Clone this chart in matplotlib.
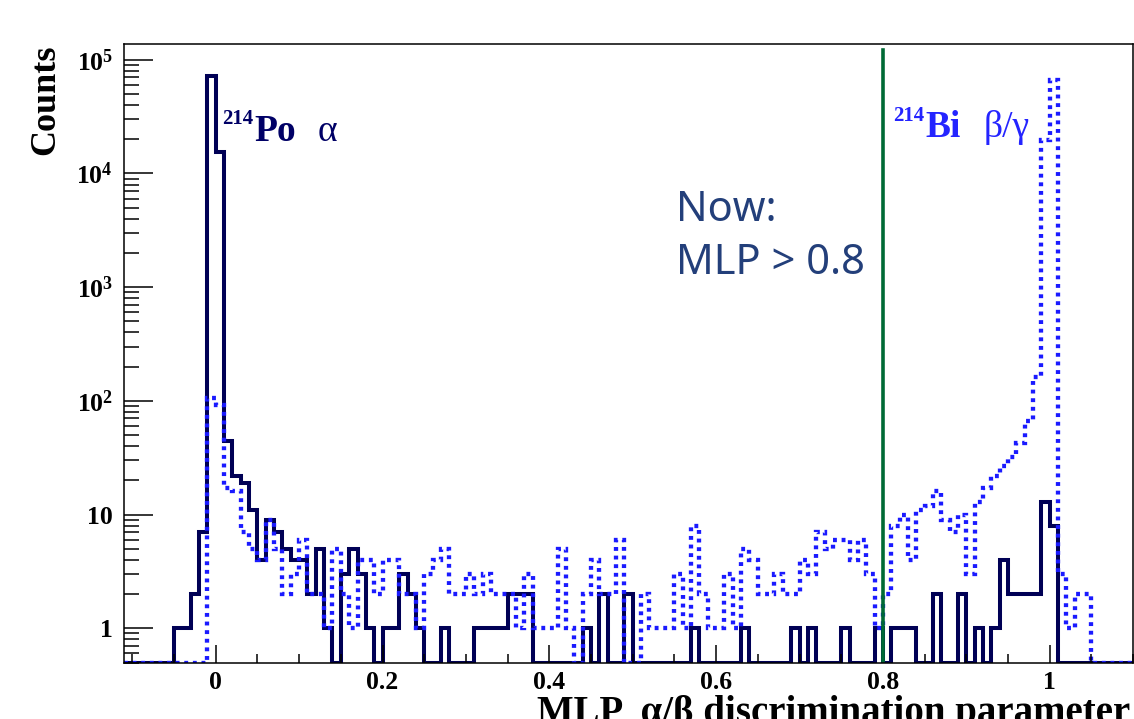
import numpy as np
import matplotlib
matplotlib.use('Agg')
import matplotlib.pyplot as plt
from matplotlib.ticker import FixedLocator, LogLocator, MultipleLocator, NullFormatter

# bin edges: 0.01 wide, from -0.11 to 1.10
edges = np.round(np.arange(-0.11, 1.1001, 0.01), 3)

# 214Po alpha (solid)
po_counts = ([0, 0, 0, 0, 0, 0]
             + [1, 1, 2, 7, 72000, 15500]
             + [44, 22, 19, 11, 4, 9, 7, 5, 4, 4, 2, 5, 1]
             + [0, 3, 5, 3, 1, 0, 1, 1, 3, 2, 1, 0, 0, 1]
             + [0, 0, 0, 1, 1, 1, 1, 2, 2, 2, 0]
             + [0, 0, 0, 0, 0, 1, 0, 2, 0, 0, 2]
             + [0, 0, 0, 0, 0, 0, 0, 1, 0, 0, 0, 0, 0, 1]
             + [0, 0, 0, 0, 0, 1, 0, 1, 0, 0, 0, 1, 0, 0, 0, 1, 0]
             + [1, 1, 1, 0, 0, 2, 0, 0, 2, 0, 1, 0, 1]
             + [4, 2, 2, 2, 2, 13, 8]
             + [0] * 9)

# 214Bi beta/gamma (dotted)
bi_counts = ([0] * 10
             + [105, 92]
             + [17, 16, 7, 5, 4, 9, 5, 2, 3, 6, 2, 2, 1]
             + [5, 2, 1, 4, 4, 2, 4, 4, 2, 2, 1, 3, 4, 5, 2]
             + [2, 3, 2, 3, 2, 2, 2, 1, 3, 1]
             + [1, 1, 5, 1, 0, 2, 4, 2, 2, 6, 0, 0]
             + [2, 1, 1, 1, 3, 1, 8, 2, 1, 1, 3, 1, 5]
             + [4, 2, 2, 3, 2, 2, 4, 3, 7, 5, 6, 6, 4, 6, 3, 1, 2]
             + [8, 10, 4, 11, 12, 16, 9, 7, 10, 3]
             + [13, 17, 22, 27, 32, 43, 66, 163, 19800, 67000]
             + [3, 1, 2, 2, 0]
             + [0, 0, 0, 0])

cut = 0.8
xticks = [0, 0.2, 0.4, 0.6, 0.8, 1]
xticklabels = ['0', '0.2', '0.4', '0.6', '0.8', '1']
yticks = [1, 10, 100, 1e3, 1e4, 1e5]
yticklabels = ['1', '10', '$10^{2}$', '$10^{3}$', '$10^{4}$', '$10^{5}$']

plt.rcParams['mathtext.fontset'] = 'custom'
plt.rcParams['mathtext.rm'] = 'Liberation Serif:bold'
plt.rcParams['mathtext.bf'] = 'Liberation Serif:bold'
plt.rcParams['mathtext.it'] = 'Liberation Serif:bold'

W, H = 1134, 719
ymin, ymax = 0.498, 1.377e5

fig = plt.figure(figsize=(W / 100, H / 100), dpi=100)
ax = fig.add_axes([124 / W, 1 - 662.7 / H, (1133.1 - 124) / W, (662.7 - 44) / H])

def px(x, y):
    return x / W, 1 - y / H

# empty bins are drawn along the bottom like ROOT does
po = np.where(np.array(po_counts) > 0, po_counts, ymin)
bi = np.where(np.array(bi_counts) > 0, bi_counts, ymin)

ax.stairs(po, edges, color='#000055', linewidth=2.9, baseline=None)
ax.stairs(bi, edges, color='#1a1aff', linewidth=3.1, baseline=None,
          linestyle=(0, (0.9, 1.1)))
ax.axvline(cut, ymax=0.99, color='#006a35', linewidth=2.6)

ax.set_yscale('log')
ax.set_xlim(edges[0], edges[-1])
ax.set_ylim(ymin, ymax)

ax.xaxis.set_major_locator(FixedLocator(xticks))
ax.xaxis.set_minor_locator(MultipleLocator(0.05))
ax.set_xticklabels(xticklabels)
ax.yaxis.set_major_locator(FixedLocator(yticks))
ax.yaxis.set_minor_locator(LogLocator(base=10, subs=np.arange(2, 10)))
ax.yaxis.set_minor_formatter(NullFormatter())
ax.set_yticklabels(yticklabels)

ax.tick_params(axis='x', which='major', direction='in', length=13, width=1.1, pad=6)
ax.tick_params(axis='x', which='minor', direction='in', length=6.5, width=1.1)
ax.tick_params(axis='y', which='major', direction='in', length=21, width=1.1, pad=8)
ax.tick_params(axis='y', which='minor', direction='in', length=10.5, width=1.1)
for lab in ax.get_xticklabels() + ax.get_yticklabels():
    lab.set_fontfamily('Liberation Serif')
    lab.set_fontweight('bold')
    lab.set_fontsize(18.5)
for s in ax.spines.values():
    s.set_linewidth(1.1)

serif = 'Liberation Serif'
fig.text(*px(46, 100), 'Counts', rotation=90, ha='center', va='center',
         family=serif, weight='bold', fontsize=26)
fig.text(*px(1130, 723), 'MLP  α/β discrimination parameter', ha='right',
         va='baseline', family=serif, weight='bold', fontsize=28)

# labels of the two populations
fig.text(*px(222, 124), '214', ha='left', va='baseline', family=serif,
         weight='bold', fontsize=15, color='#000066')
fig.text(*px(254, 141), 'Po', ha='left', va='baseline', family=serif,
         weight='bold', fontsize=27, color='#000066')
fig.text(*px(318, 141), 'α', ha='left', va='baseline', family=serif,
         fontsize=27, color='#000066')

fig.text(*px(893, 121), '214', ha='left', va='baseline', family=serif,
         weight='bold', fontsize=15, color='#2424ff')
fig.text(*px(925, 137), 'Bi', ha='left', va='baseline', family=serif,
         weight='bold', fontsize=27, color='#2424ff')
fig.text(*px(984, 137), 'β/γ', ha='left', va='baseline', family=serif,
         fontsize=27, color='#2424ff')

fig.text(*px(676, 221), 'Now:', ha='left', va='baseline', family='Noto Sans',
         fontsize=30, color='#233f7a')
fig.text(*px(676, 274), 'MLP > 0.8', ha='left', va='baseline', family='Noto Sans',
         fontsize=30, color='#233f7a')

fig.savefig('out.png', dpi=100)
